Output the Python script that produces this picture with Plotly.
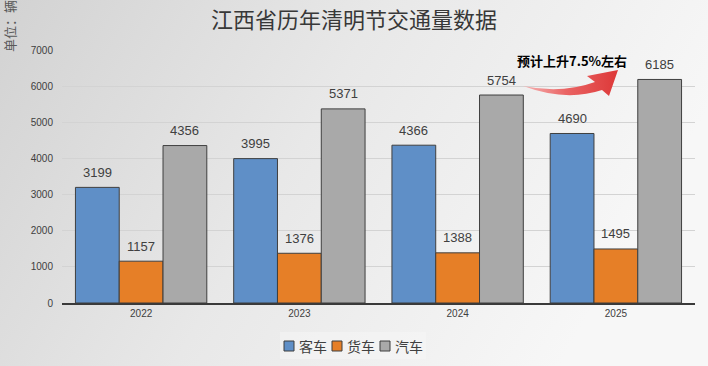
import base64
import plotly.graph_objects as go

years = ["2022", "2023", "2024", "2025"]
series_names = ["客车", "货车", "汽车"]
passenger = [3199, 3995, 4366, 4690]
freight = [1157, 1376, 1388, 1495]
cars = [4356, 5371, 5754, 6185]
colors = ["#5f8fc7", "#e67f27", "#a9a9a9"]
y_ticks = [0, 1000, 2000, 3000, 4000, 5000, 6000, 7000]

W, H = 708, 366
L, R, T, B = 62, 13, 50, 63
pw, ph = W - L - R, H - T - B
BARGAP = 0.17
bar_px = pw / len(years) * (1 - BARGAP) / len(series_names)

def px(x):
    return (x - L) / pw

def py(y):
    return (H - B - y) / ph

def svg_uri(body):
    svg = ('<svg xmlns="http://www.w3.org/2000/svg" width="%d" height="%d">' % (W, H)
           + body + '</svg>')
    return "data:image/svg+xml;base64," + base64.b64encode(svg.encode()).decode()

fig = go.Figure()
all_vals = [passenger, freight, cars]
for i, (name, vals, col) in enumerate(zip(series_names, all_vals, colors)):
    fig.add_trace(go.Bar(
        x=years, y=vals, name=name,
        marker=dict(color=col, line=dict(color="#3f3f3f", width=1)),
        showlegend=False,
    ))
    for j, v in enumerate(vals):
        # x as category index on the category axis
        fig.add_annotation(x=j, y=v, text=str(v), showarrow=False,
                           xshift=(i - 1) * bar_px, yshift=15,
                           xanchor="center", yanchor="middle",
                           font=dict(size=13, color="#404040", family="Liberation Sans"))

# background gradient
bg_src = svg_uri(
    '<defs><linearGradient id="g" x1="0" y1="0" x2="1" y2="0.3">'
    '<stop offset="0" stop-color="#d2d2d2"/>'
    '<stop offset="0.5" stop-color="#e8e8e8"/>'
    '<stop offset="1" stop-color="#f7f7f7"/>'
    '</linearGradient></defs>'
    '<rect width="%d" height="%d" fill="url(#g)"/>' % (W, H))

# curved arrow decoration with a pink-to-red gradient
arrow_path = ("M 523,86 Q 566,102 602,90 L 609,96 L 618,70 L 587,76 L 595,82 "
              "Q 562,94 523,86 Z")
arrow_src = svg_uri(
    '<defs><linearGradient id="a" gradientUnits="userSpaceOnUse" x1="523" y1="0" x2="618" y2="0">'
    '<stop offset="0" stop-color="#f6b4b4"/>'
    '<stop offset="0.45" stop-color="#ea6464"/>'
    '<stop offset="1" stop-color="#dd3838"/>'
    '</linearGradient></defs>'
    '<path d="%s" fill="url(#a)"/>' % arrow_path)

for src, layer in [(bg_src, "below"), (arrow_src, "above")]:
    fig.add_layout_image(dict(
        source=src, xref="paper", yref="paper",
        x=-L / pw, y=1 + T / ph, sizex=W / pw, sizey=H / ph,
        xanchor="left", yanchor="top", sizing="stretch", layer=layer,
    ))

fig.add_annotation(text="<b>预计上升7.5%左右</b>", xref="paper", yref="paper",
                   x=px(572), y=py(61), xanchor="center", yanchor="middle",
                   showarrow=False,
                   font=dict(size=13, color="#000000", family="Noto Sans CJK SC"))

fig.add_annotation(text="单位：辆", xref="paper", yref="paper",
                   x=px(9), y=py(26), xanchor="center", yanchor="middle",
                   textangle=-90, showarrow=False,
                   font=dict(size=13, color="#595959", family="Noto Sans CJK SC"))

# custom compact legend
fig.add_shape(type="rect", xref="paper", yref="paper",
              x0=px(280), x1=px(426), y0=py(332), y1=py(359),
              fillcolor="rgba(245,245,245,0.55)", line=dict(width=0), layer="below")
leg_x = [284, 332, 380]
for name, col, lx in zip(series_names, colors, leg_x):
    fig.add_shape(type="rect", xref="paper", yref="paper",
                  x0=px(lx), x1=px(lx + 10), y0=py(341), y1=py(351),
                  fillcolor=col, line=dict(color="#3f3f3f", width=1))
    fig.add_annotation(text=name, xref="paper", yref="paper",
                       x=px(lx + 13), y=py(346), xanchor="left", yanchor="middle",
                       showarrow=False,
                       font=dict(size=14, color="#404040", family="Noto Sans CJK SC"))

fig.update_layout(
    width=W, height=H,
    margin=dict(l=L, r=R, t=T, b=B, autoexpand=False),
    paper_bgcolor="#e6e6e6", plot_bgcolor="rgba(0,0,0,0)",
    title=dict(text="江西省历年清明节交通量数据", x=0.5, xref="container", xanchor="center",
               y=1 - 20 / H, yref="container", yanchor="middle", automargin=False,
               font=dict(size=22, color="#383838", family="Noto Sans CJK SC")),
    barmode="group", bargap=BARGAP, bargroupgap=0,
    showlegend=False,
    xaxis=dict(type="category", range=[-0.5, len(years) - 0.5],
               showline=True, linecolor="#3a3a3a", linewidth=2, ticks="",
               tickfont=dict(size=10, color="#404040", family="Liberation Sans"),
               showgrid=False, automargin=False),
    yaxis=dict(range=[0, 7000], tickvals=y_ticks, showgrid=True, gridcolor="#d3d3d3",
               gridwidth=1, zeroline=False, automargin=False,
               tickfont=dict(size=10, color="#404040", family="Liberation Sans"),
               ticklabelstandoff=8),
    font=dict(family="Liberation Sans"),
)

fig.write_html("out.html", config={"displayModeBar": False},
               post_script="document.body.style.margin='0';")
